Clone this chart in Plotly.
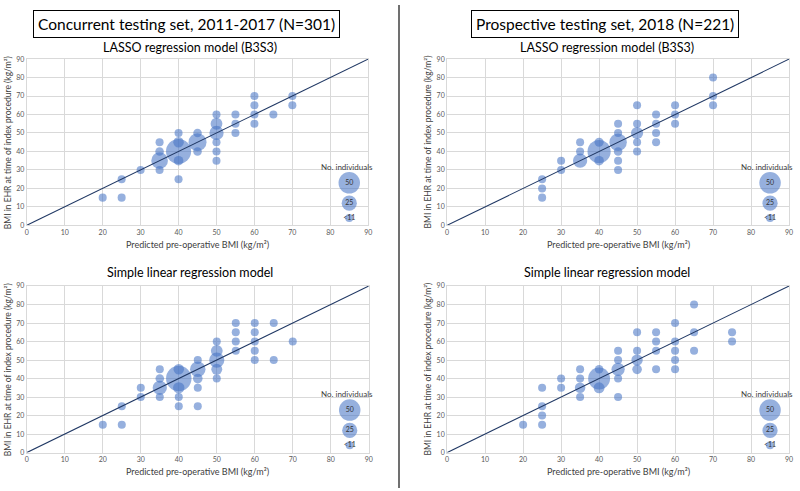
import plotly.graph_objects as go

# ---------------- data ----------------
# Top-left: Concurrent testing set, LASSO
p1_x = [20, 25, 25, 30, 35, 35, 35, 35, 40, 40, 40, 40, 40, 45, 45, 45,
        50, 50, 50, 50, 50, 50, 55, 55, 55, 60, 60, 60, 60, 65, 70, 70]
p1_y = [15, 25, 15, 30, 45, 40, 35, 30, 50, 45, 40, 35, 25, 50, 45, 40,
        60, 55, 50, 45, 40, 35, 60, 55, 50, 70, 65, 60, 55, 60, 70, 65]
p1_n = [7, 7, 7, 7, 7, 8, 30, 7, 7, 12, 68, 10, 7, 8, 35, 8,
        7, 15, 22, 7, 7, 7, 7, 7, 7, 7, 7, 7, 7, 7, 7, 7]

# Top-right: Prospective testing set, LASSO
p2_x = [25, 25, 25, 30, 30, 35, 35, 35, 40, 40, 40, 45, 45, 45, 45, 45, 45,
        50, 50, 50, 50, 50, 55, 55, 55, 55, 60, 60, 60, 70, 70, 70]
p2_y = [25, 20, 15, 35, 30, 45, 40, 35, 45, 40, 35, 55, 50, 45, 40, 35, 30,
        65, 55, 50, 45, 40, 60, 55, 50, 45, 65, 60, 55, 80, 70, 65]
p2_n = [7, 7, 7, 7, 7, 7, 7, 22, 9, 58, 10, 7, 7, 33, 8, 7, 7,
        7, 7, 16, 7, 7, 7, 7, 7, 7, 7, 7, 7, 7, 7, 7]

# Bottom-left: Concurrent testing set, simple linear
p3_x = [20, 25, 25, 30, 30, 35, 35, 35, 35, 40, 40, 40, 40, 40, 45, 45, 45, 45, 45,
        50, 50, 50, 50, 50, 55, 55, 55, 55, 60, 60, 60, 60, 60, 65, 65, 70]
p3_y = [15, 25, 15, 35, 30, 45, 40, 35, 30, 45, 40, 35, 30, 25, 50, 45, 40, 35, 25,
        60, 55, 50, 45, 40, 70, 65, 60, 55, 70, 65, 60, 55, 50, 70, 50, 60]
p3_n = [7, 7, 7, 7, 7, 7, 8, 22, 7, 12, 70, 14, 7, 7, 7, 26, 10, 7, 7,
        7, 15, 25, 13, 7, 7, 7, 7, 7, 7, 7, 7, 7, 7, 7, 7, 7]

# Bottom-right: Prospective testing set, simple linear
p4_x = [20, 25, 25, 25, 25, 30, 30, 35, 35, 35, 35, 40, 40, 40, 45, 45, 45, 45, 45,
        50, 50, 50, 50, 55, 55, 55, 55, 60, 60, 60, 60, 60, 65, 65, 65, 75, 75]
p4_y = [15, 35, 25, 20, 15, 40, 35, 45, 40, 35, 30, 45, 40, 35, 55, 50, 45, 40, 30,
        65, 55, 50, 45, 65, 60, 55, 45, 70, 60, 55, 50, 45, 80, 65, 55, 65, 60]
p4_n = [7, 7, 7, 7, 7, 7, 7, 7, 7, 12, 7, 8, 52, 13, 7, 7, 19, 7, 7,
        7, 7, 14, 10, 7, 7, 7, 7, 7, 7, 7, 7, 7, 7, 7, 7, 7, 7]

# size legend
leg_x = [85, 85, 85]
leg_y = [23, 12, 4]
leg_n = [50, 25, 7]
leg_labels = ["50", "25", "&lt;11"]

ref_line = [0, 90]
axis_ticks = list(range(0, 91, 10))

group_titles = ["Concurrent testing set, 2011-2017 (N=301)",
                "Prospective testing set, 2018 (N=221)"]
model_titles = ["LASSO regression model (B3S3)", "Simple linear regression model"]
x_title = "Predicted pre-operative BMI (kg/m²)"
y_title = "BMI in EHR at time of index procedure (kg/m²)"

# ---------------- style ----------------
FONT = "Lato, Liberation Sans, sans-serif"
W, H = 800, 491
BUBBLE = "rgba(68,114,196,0.80)"
LINE = "#203864"
GRID = "#D9D9D9"
SIZEREF = 2 * 50 / 21.5 ** 2   # a count of 50 -> ~21 px diameter

panels = [
    (p1_x, p1_y, p1_n, "x", "y"),
    (p2_x, p2_y, p2_n, "x2", "y2"),
    (p3_x, p3_y, p3_n, "x3", "y3"),
    (p4_x, p4_y, p4_n, "x4", "y4"),
]

# domains (paper fractions)
xdom = [(25 / W, 369 / W), (448.5 / W, 793 / W), (25 / W, 369.5 / W), (448.5 / W, 793 / W)]
ydom = [(1 - 224 / H, 1 - 55 / H), (1 - 224 / H, 1 - 55 / H),
        (1 - 455 / H, 1 - 285.7 / H), (1 - 455 / H, 1 - 285.7 / H)]

fig = go.Figure()
for (px, py, pn, xa, ya) in panels:
    fig.add_trace(go.Scatter(
        x=px, y=py, mode="markers", xaxis=xa, yaxis=ya,
        marker=dict(size=pn, sizemode="area", sizeref=SIZEREF, sizemin=2,
                    color=BUBBLE, line=dict(width=0)),
        hoverinfo="x+y+text", text=[str(v) for v in pn], showlegend=False))
    fig.add_trace(go.Scatter(
        x=leg_x, y=leg_y, mode="markers+text", xaxis=xa, yaxis=ya,
        text=leg_labels, textposition="middle center",
        textfont=dict(size=7, color="#333333", family=FONT),
        marker=dict(size=leg_n, sizemode="area", sizeref=SIZEREF, sizemin=2,
                    color=BUBBLE, line=dict(width=0)),
        hoverinfo="skip", showlegend=False))
    fig.add_trace(go.Scatter(
        x=ref_line, y=ref_line, mode="lines", xaxis=xa, yaxis=ya,
        line=dict(color=LINE, width=1.1), hoverinfo="skip", showlegend=False))

layout = dict(
    width=W, height=H, margin=dict(l=0, r=0, t=0, b=0),
    paper_bgcolor="white", plot_bgcolor="white",
    font=dict(family=FONT, color="#404040"),
)
axis_common = dict(range=[0, 90], tickvals=axis_ticks, showgrid=True, gridcolor=GRID,
                   gridwidth=1, zeroline=False, showline=True, mirror=True,
                   linecolor=GRID, linewidth=1, ticks="",
                   tickfont=dict(size=7, color="#595959", family=FONT))
for i in range(4):
    sx = "" if i == 0 else str(i + 1)
    layout["xaxis" + sx] = dict(axis_common, domain=list(xdom[i]),
                                anchor="y" + sx)
    layout["yaxis" + sx] = dict(axis_common, domain=list(ydom[i]),
                                anchor="x" + sx)
fig.update_layout(**layout)

ann = []
# group titles in boxes
for cx, t in zip([186, 608], group_titles):
    ann.append(dict(text=t, x=cx / W, y=1 - 19 / H, xref="paper", yref="paper",
                    showarrow=False, font=dict(size=15.5, color="#000000", family=FONT),
                    bordercolor="#000000", borderwidth=1, borderpad=4,
                    bgcolor="white", xanchor="center", yanchor="middle"))
# model titles
for row, t in enumerate(model_titles):
    ty = [43, 272][row]
    for cx in [189, 610]:
        ann.append(dict(text=t, x=cx / W, y=1 - ty / H, xref="paper", yref="paper",
                        showarrow=False, font=dict(size=12.5, color="#000000", family=FONT),
                        xanchor="center", yanchor="middle"))
# axis titles
for i in range(4):
    xc = (xdom[i][0] + xdom[i][1]) / 2
    xt_y = [243, 243, 474, 474][i]
    ann.append(dict(text=x_title, x=xc, y=1 - xt_y / H, xref="paper", yref="paper",
                    showarrow=False, font=dict(size=9, color="#404040", family=FONT),
                    xanchor="center", yanchor="middle"))
    yc = (ydom[i][0] + ydom[i][1]) / 2
    yt_x = [6, 429.5, 6, 429.5][i]
    ann.append(dict(text=y_title, x=yt_x / W, y=yc, xref="paper", yref="paper",
                    showarrow=False, textangle=-90,
                    font=dict(size=8.5, color="#404040", family=FONT),
                    xanchor="center", yanchor="middle"))
# size legend caption
for i in range(4):
    sx = "" if i == 0 else str(i + 1)
    ann.append(dict(text="No. individuals", x=84.3, y=31.5, xref="x" + sx, yref="y" + sx,
                    showarrow=False, font=dict(size=8, color="#404040", family=FONT),
                    xanchor="center", yanchor="middle"))
fig.update_layout(annotations=ann)

fig.update_layout(shapes=[dict(type="line", xref="paper", yref="paper",
                               x0=400 / W, x1=400 / W, y0=0, y1=1,
                               line=dict(color="#404040", width=1.5))])

fig.write_html("out.html", config={"displayModeBar": False},
               post_script="document.body.style.margin='0';document.body.style.overflow='hidden';")
